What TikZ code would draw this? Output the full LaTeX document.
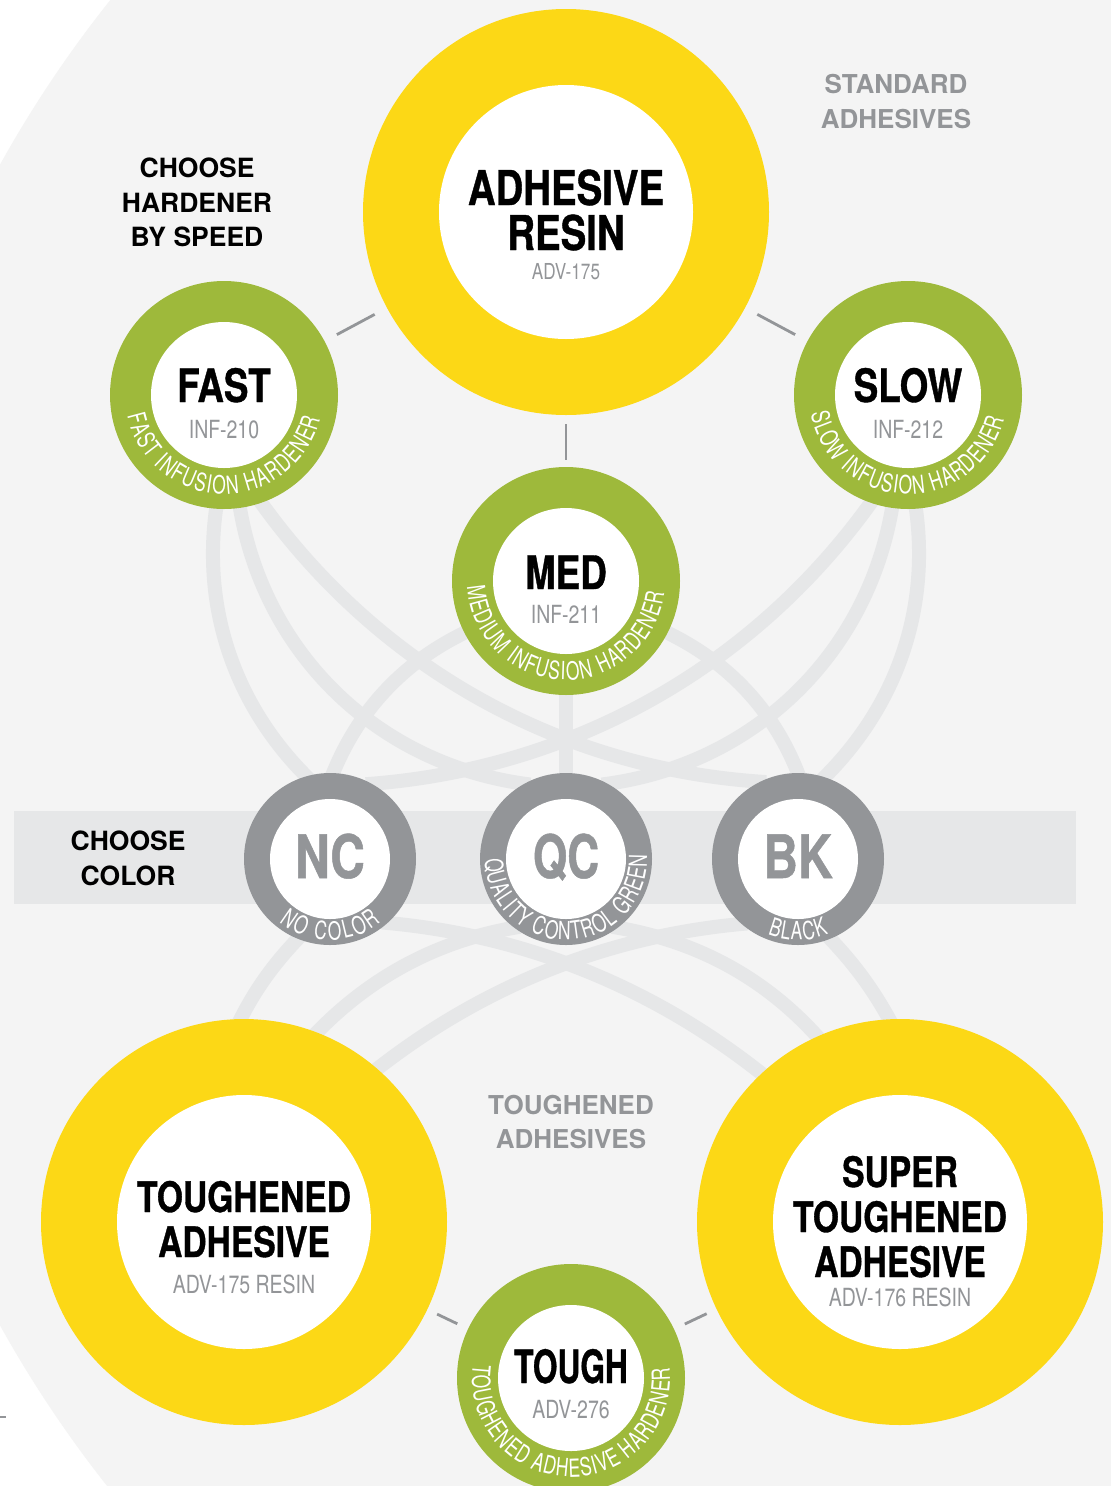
\documentclass[tikz,border=0pt]{standalone}
\usepackage{fontspec}
\usepackage{graphicx}
\usetikzlibrary{decorations.text,calc}
\setmainfont{TeX Gyre Heros}
\newfontfamily\hvc[FakeStretch=0.8,FakeBold=0.8]{TeX Gyre Heros}
\newfontfamily\hvl[FakeStretch=0.78]{TeX Gyre Heros}
\newfontfamily\hvr[FakeStretch=0.7]{TeX Gyre Heros}
\definecolor{bgg}{HTML}{F4F4F4}
\definecolor{band}{HTML}{E6E7E8}
\definecolor{rgray}{HTML}{939598}
\definecolor{grn}{HTML}{9EB93B}
\definecolor{ylw}{HTML}{FCD816}
\pgfdeclarelayer{back}
\pgfdeclarelayer{links}
\pgfsetlayers{back,links,main}
\begin{document}
\begin{tikzpicture}[x=1pt,y=1pt,
  bigring/.style={circle,inner sep=0pt,outer sep=0pt,minimum size=406pt,fill=ylw,
    path picture={\fill[white] (path picture bounding box.center) circle (127pt);}},
  hardring/.style={circle,inner sep=0pt,outer sep=0pt,minimum size=228pt,fill=grn,
    path picture={\fill[white] (path picture bounding box.center) circle (73pt);}},
  colring/.style={circle,inner sep=0pt,outer sep=0pt,minimum size=172pt,fill=rgray,
    path picture={\fill[white] (path picture bounding box.center) circle (60pt);}},
  lbl/.style={anchor=base,inner sep=0pt,outer sep=0pt},
  bigtxt/.style={lbl,font=\hvc\bfseries\fontsize{48}{48}\selectfont},
  adhtxt/.style={lbl,font=\hvc\bfseries\fontsize{42}{42}\selectfont},
  hardtxt/.style={lbl,font=\hvc\bfseries\fontsize{46}{46}\selectfont},
  codetxt/.style={lbl,font=\hvc\bfseries\fontsize{60}{60}\selectfont,text=rgray},
  subtxt/.style={lbl,font=\hvl\fontsize{25}{25}\selectfont,text=rgray},
  headtxt/.style={lbl,font=\bfseries\fontsize{26.5}{26.5}\selectfont},
  grayhead/.style={lbl,font=\bfseries\fontsize{26}{26}\selectfont,text=rgray},
  link/.style={draw=band,line width=14pt,shorten <=-6pt,shorten >=-6pt},
  tick/.style={draw=rgray,line width=2.8pt},
  ringtext/.style={decorate,decoration={text along path,text align={fit to path},text color=white,
    text={|\hvr\fontsize{25}{25}\selectfont|#1}}},
]
\useasboundingbox (0,0) rectangle (1111,-1486);
\begin{pgfonlayer}{back}
  \fill[white] (0,0) rectangle (1111,-1486);
  \begin{scope}
    \clip (0,0) rectangle (1111,-1486);
    \fill[bgg] (1046,-745) circle (1196pt);
  \end{scope}
  \fill[band] (14,-811) rectangle (1076,-904);
\end{pgfonlayer}

% ring nodes
\node[bigring] (res) at (566,-212) {};
\node[hardring] (fast) at (224,-395) {};
\node[hardring] (slow) at (908,-395) {};
\node[hardring] (med) at (566,-581) {};
\node[colring] (nc) at (330,-859) {};
\node[colring] (qc) at (566,-859) {};
\node[colring] (bk) at (798,-859) {};
\node[bigring] (ta) at (244,-1222) {};
\node[bigring] (sta) at (900,-1222) {};
\node[hardring] (tough) at (571,-1378) {};

% labels
\node[bigtxt] (resA) at (566,-205) {ADHESIVE};
\node[bigtxt] (resB) at (566,-250) {RESIN};
\node[subtxt,font=\hvl\fontsize{22}{22}\selectfont] (resC) at (566,-279) {ADV-175};
\node[hardtxt] (fastA) at (224,-402) {FAST};
\node[subtxt] (fastB) at (224,-438) {INF-210};
\node[hardtxt] (slowA) at (908,-402) {SLOW};
\node[subtxt] (slowB) at (908,-438) {INF-212};
\node[hardtxt] (medA) at (566,-589) {MED};
\node[subtxt] (medB) at (566,-623) {INF-211};
\node[hardtxt] (toughA) at (571,-1383) {\scalebox{0.86}[1]{TOUGH}};
\node[subtxt] (toughB) at (571,-1418) {ADV-276};
\node[codetxt] (ncA) at (330,-878) {NC};
\node[codetxt] (qcA) at (566,-878) {\scalebox{0.92}[1]{QC}};
\node[codetxt] (bkA) at (798,-878) {BK};
\node[adhtxt] (taA) at (244,-1212) {TOUGHENED};
\node[adhtxt] (taB) at (244,-1257) {ADHESIVE};
\node[subtxt] (taC) at (244,-1293) {ADV-175 RESIN};
\node[adhtxt] (staA) at (900,-1187) {SUPER};
\node[adhtxt] (staB) at (900,-1232) {TOUGHENED};
\node[adhtxt] (staC) at (900,-1277) {ADHESIVE};
\node[subtxt] (staD) at (900,-1306) {ADV-176 RESIN};

\node[headtxt] (hdA) at (197,-177) {CHOOSE};
\node[headtxt] (hdB) at (197,-212) {HARDENER};
\node[headtxt] (hdC) at (197,-246) {BY SPEED};
\node[headtxt] (ccA) at (128,-850) {CHOOSE};
\node[headtxt] (ccB) at (128,-885) {COLOR};
\node[grayhead] (saA) at (896,-93) {STANDARD};
\node[grayhead] (saB) at (896,-128) {ADHESIVES};
\node[grayhead] (tgA) at (571,-1114) {TOUGHENED};
\node[grayhead] (tgB) at (571,-1148) {ADHESIVES};

% curved ring texts
\path[ringtext={FAST INFUSION HARDENER}] ($(fast.center)+(192:99pt)$) arc[start angle=192,end angle=346,radius=99pt];
\path[ringtext={SLOW INFUSION HARDENER}] ($(slow.center)+(191:99pt)$) arc[start angle=191,end angle=346,radius=99pt];
\path[ringtext={MEDIUM INFUSION HARDENER}] ($(med.center)+(183:99pt)$) arc[start angle=183,end angle=353,radius=99pt];
\path[ringtext={TOUGHENED ADHESIVE HARDENER}] ($(tough.center)+(172:99pt)$) arc[start angle=172,end angle=366,radius=99pt];
\path[ringtext={NO COLOR}] ($(nc.center)+(231:81pt)$) arc[start angle=231,end angle=309,radius=81pt];
\path[ringtext={QUALITY CONTROL GREEN}] ($(qc.center)+(180:81pt)$) arc[start angle=180,end angle=363,radius=81pt];
\path[ringtext={BLACK}] ($(bk.center)+(248:81pt)$) arc[start angle=248,end angle=292,radius=81pt];

% light connector arcs
\begin{pgfonlayer}{links}
  \draw[link] (fast.-71) .. controls (377.6,-667.6) and (560.6,-769.6) .. (bk.116);
  \draw[link] (slow.-109) .. controls (754.4,-667.6) and (571.4,-769.6) .. (nc.61);
  \draw[link] (fast.-82) .. controls (262.1,-653) and (378.1,-765.6) .. (qc.119);
  \draw[link] (slow.-98) .. controls (869.9,-653) and (753.9,-765.6) .. (qc.61);
  \draw[link] (fast.-94) .. controls (200.6,-607.3) and (234.7,-707) .. (nc.106);
  \draw[link] (slow.-86) .. controls (931.4,-607.3) and (897.3,-707) .. (bk.72);
  \draw[link] (med.-153) .. controls (404.4,-660.4) and (357,-710.8) .. (nc.88);
  \draw[link] (med.-27) .. controls (727.6,-660.4) and (775,-710.8) .. (bk.90);
  \draw[link] (med) -- (qc);
  \draw[link] (qc.-127) .. controls (438.8,-939.7) and (369.4,-976.7) .. (ta.69);
  \draw[link] (qc.-53) .. controls (694.8,-939.9) and (765.5,-977.2) .. (sta.114);
  \draw[link] (bk.-131) .. controls (608.3,-935.2) and (481.7,-986) .. (ta.49);
  \draw[link] (nc.-48) .. controls (524,-934.5) and (654.3,-987.3) .. (sta.133);
  \draw[link] (nc.-112) .. controls (274.6,-962.5) and (254.9,-989.3) .. (ta.91);
  \draw[link] (bk.-68) .. controls (853.5,-962.6) and (873.4,-989.5) .. (sta.93);
\end{pgfonlayer}

% dark ticks
\draw[tick,shorten <=14pt,shorten >=14pt] (res) -- (fast);
\draw[tick,shorten <=14pt,shorten >=14pt] (res) -- (slow);
\draw[tick,shorten <=9pt,shorten >=7pt] (res) -- (med);
\draw[tick,shorten <=12pt,shorten >=11pt] (tough) -- (ta);
\draw[tick,shorten <=12pt,shorten >=11pt] (tough) -- (sta);
\coordinate (edgeA) at (0,-1417);
\coordinate (edgeB) at (6,-1417);
\draw[tick] (edgeA) -- (edgeB);
\end{tikzpicture}
\end{document}
